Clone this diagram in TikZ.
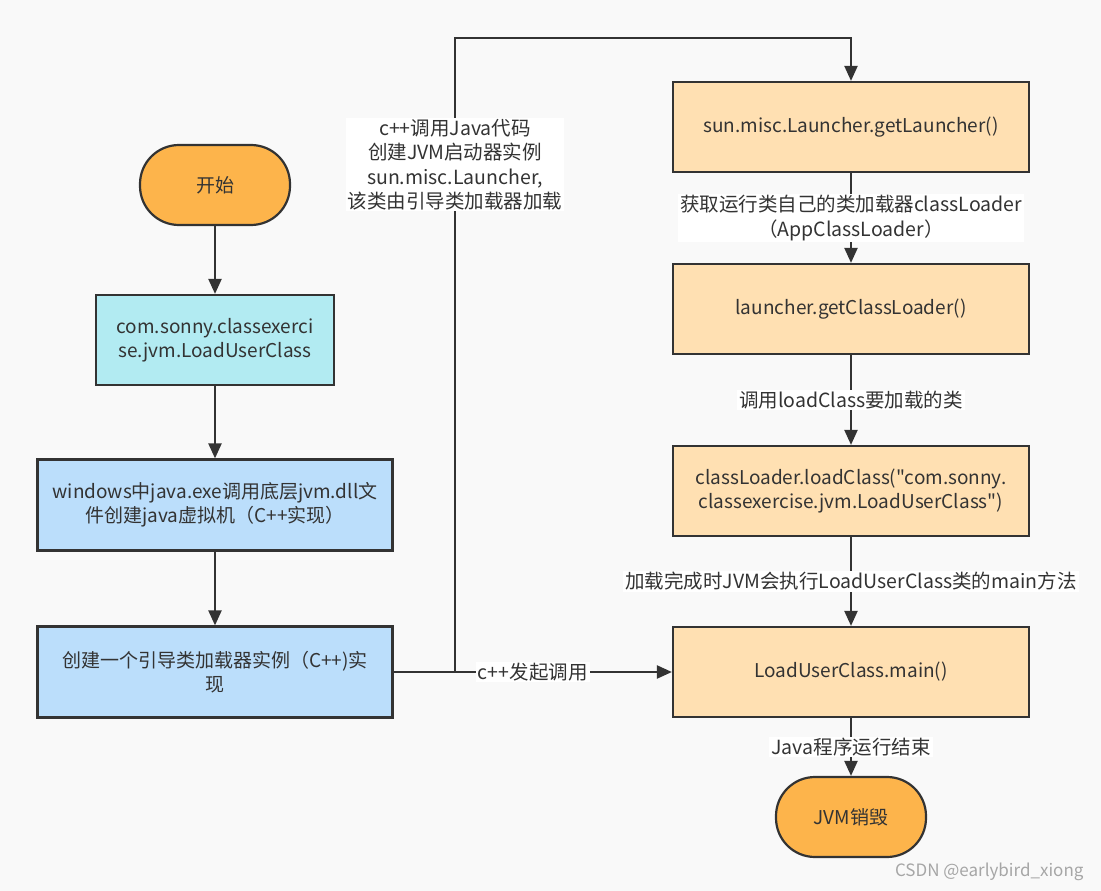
\documentclass[tikz,border=0pt]{standalone}
\usepackage{fontspec}
\setmainfont{Noto Sans CJK SC}[Ligatures=TeXOff]
\usetikzlibrary{arrows.meta,positioning}

\definecolor{bgc}{HTML}{F9F9F9}
\definecolor{linec}{HTML}{333333}
\definecolor{startc}{HTML}{FDB44B}
\definecolor{cyanc}{HTML}{B2EBF2}
\definecolor{bluec}{HTML}{BBDEFB}
\definecolor{peachc}{HTML}{FFE0B2}

\begin{document}
\begin{tikzpicture}[x=1pt,y=-1pt,
    txt/.style={font=\fontsize{19}{24}\selectfont,text=linec,align=center},
    base/.style={txt,draw=linec,line width=2.2pt,inner sep=0pt},
    pill/.style={base,fill=startc,minimum width=150pt,minimum height=80pt,rounded corners=39pt},
    cyanbox/.style={base,fill=cyanc,minimum width=238pt,minimum height=90pt},
    bluebox/.style={base,fill=bluec,minimum width=355pt,minimum height=91pt},
    peachbox/.style={base,fill=peachc,minimum width=356pt,minimum height=90pt},
    flow/.style={draw=linec,line width=2.2pt,-{Triangle[length=15pt,width=13pt]}},
    lbl/.style={txt,font=\fontsize{19.5}{24.5}\selectfont,fill=white,inner xsep=2pt,inner ysep=1pt}]
  \fill[bgc] (0,0) rectangle (1101,891);

  % left column
  \node[pill] (start) at (215,185) {开始};
  \node[cyanbox] (cls) at (215,340) {com.sonny.classexerci\\se.jvm.LoadUserClass};
  \node[bluebox] (jvm) at (215,505) {windows中java.exe调用底层jvm.dll文\\件创建java虚拟机（C++实现）};
  \node[bluebox] (boot) at (215,672) {创建一个引导类加载器实例（C++)实\\现};

  % right column
  \node[peachbox] (launcher) at (851,127) {sun.misc.Launcher.getLauncher()};
  \node[peachbox] (getcl) at (851,309) {launcher.getClassLoader()};
  \node[peachbox] (load) at (851,491) {classLoader.loadClass("com.sonny.\\classexercise.jvm.LoadUserClass")};
  \node[peachbox] (main) at (851,672) {LoadUserClass.main()};
  \node[pill] (end) at (851,817) {JVM销毁};

  \coordinate (turn) at (455,38);

  \draw[flow] (start) -- (cls);
  \draw[flow] (cls) -- (jvm);
  \draw[flow] (jvm) -- (boot);
  \draw[flow] (boot) -- node[lbl] {c++发起调用} (main);
  \draw[flow] (boot.east) -| node[lbl,pos=0.9] {c++调用Java代码\\创建JVM启动器实例\\sun.misc.Launcher,\\该类由引导类加载器加载} (turn) -- (turn -| launcher) -- (launcher);
  \draw[flow] (launcher) -- node[lbl] {获取运行类自己的类加载器classLoader\\（AppClassLoader）} (getcl);
  \draw[flow] (getcl) -- node[lbl] {调用loadClass要加载的类} (load);
  \draw[flow] (load) -- node[lbl] {加载完成时JVM会执行LoadUserClass类的main方法} (main);
  \draw[flow] (main) -- node[lbl] {Java程序运行结束} (end);

  \node[anchor=east,font=\fontsize{17}{20}\selectfont,text=black!35] (mark) at (1087,872) {CSDN @earlybird\_xiong};
\end{tikzpicture}
\end{document}
